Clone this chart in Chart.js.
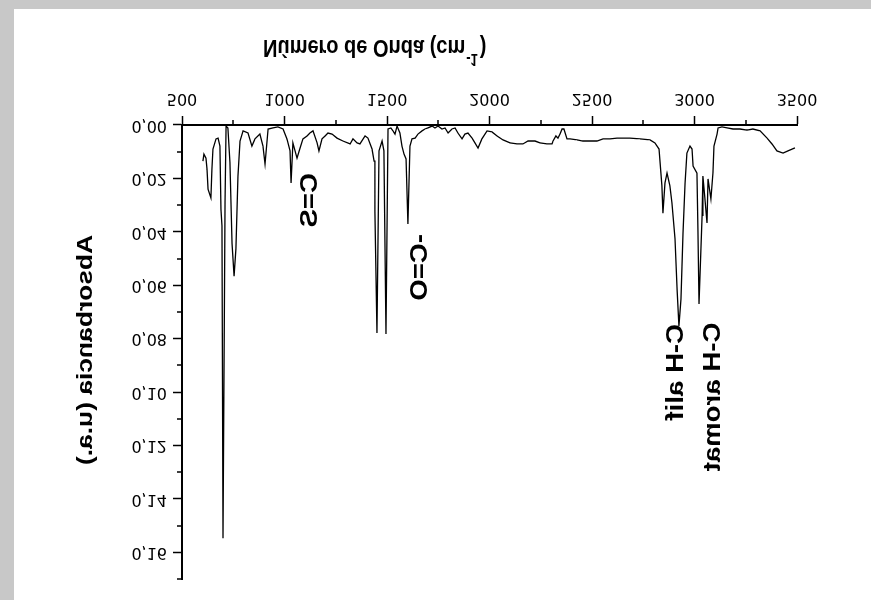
<!DOCTYPE html>
<html>
<head>
<meta charset="utf-8">
<script src="https://cdn.jsdelivr.net/npm/chart.js@4.4.1/dist/chart.umd.min.js"></script>
<style>
  html, body { margin: 0; padding: 0; background: #c8c8c8; }
  body { width: 871px; height: 600px; overflow: hidden; position: relative; }
  /* the reference is printed upside down, so the whole canvas is mirrored */
  #spectrum { position: absolute; left: 14px; top: 9px; background: #fff; transform: scaleY(-1); }
</style>
</head>
<body>
<canvas id="spectrum" width="857" height="591"></canvas>
<script>
const wavenumber = [
  602, 607, 617, 622, 627, 641, 646, 651, 666, 676,
  685, 690, 695, 700, 710, 715, 724, 734, 744, 754,
  763, 773, 783, 798, 822, 841, 856, 880, 895, 905,
  920, 944, 968, 993, 1012, 1027, 1032, 1041, 1061, 1076,
  1090, 1110, 1124, 1139, 1159, 1168, 1183, 1198, 1212, 1232,
  1256, 1285, 1320, 1334, 1354, 1368, 1393, 1407, 1427, 1437,
  1441, 1451, 1461, 1476, 1485, 1495, 1505, 1519, 1529, 1539,
  1549, 1563, 1573, 1583, 1593, 1602, 1612, 1622, 1637, 1651,
  1671, 1685, 1700, 1720, 1734, 1749, 1768, 1783, 1798, 1817,
  1832, 1846, 1866, 1880, 1895, 1915, 1929, 1944, 1963, 1988,
  2012, 2037, 2066, 2100, 2134, 2163, 2188, 2222, 2246, 2280,
  2305, 2310, 2324, 2334, 2344, 2354, 2363, 2378, 2393, 2427,
  2456, 2490, 2524, 2554, 2588, 2622, 2685, 2734, 2783, 2807,
  2827, 2841, 2846, 2856, 2866, 2880, 2890, 2905, 2915, 2924,
  2934, 2944, 2954, 2963, 2978, 2988, 2993, 3012, 3017, 3022,
  3037, 3041, 3051, 3061, 3066, 3080, 3090, 3095, 3110, 3115,
  3134, 3159, 3188, 3222, 3256, 3285, 3320, 3354, 3378, 3402,
  3432, 3456, 3490
];
const absorbance = [
  0.0135, 0.0109, 0.0124, 0.0165, 0.0240, 0.0273, 0.0165, 0.0090, 0.0052, 0.0049,
  0.0079, 0.0315, 0.0378, 0.1547, 0.0285, 0.0004, 0.0011, 0.0142, 0.0442, 0.0566,
  0.0464, 0.0191, 0.0060, 0.0022, 0.0030, 0.0079, 0.0052, 0.0034, 0.0079, 0.0146,
  0.0015, 0.0011, 0.0007, 0.0015, 0.0052, 0.0097, 0.0217, 0.0067, 0.0124, 0.0086,
  0.0052, 0.0041, 0.0030, 0.0022, 0.0067, 0.0097, 0.0052, 0.0041, 0.0030, 0.0034,
  0.0049, 0.0060, 0.0071, 0.0052, 0.0067, 0.0071, 0.0041, 0.0049, 0.0090, 0.0135,
  0.0322, 0.0779, 0.0097, 0.0060, 0.0097, 0.0783, 0.0015, 0.0011, 0.0022, 0.0034,
  0.0004, 0.0030, 0.0079, 0.0109, 0.0127, 0.0371, 0.0079, 0.0052, 0.0049, 0.0034,
  0.0022, 0.0015, 0.0011, 0.0004, 0.0011, 0.0004, 0.0015, 0.0011, 0.0030, 0.0015,
  0.0011, 0.0030, 0.0052, 0.0034, 0.0030, 0.0049, 0.0067, 0.0086, 0.0052, 0.0022,
  0.0026, 0.0041, 0.0056, 0.0067, 0.0071, 0.0071, 0.0060, 0.0060, 0.0067, 0.0071,
  0.0071, 0.0060, 0.0041, 0.0049, 0.0034, 0.0015, 0.0015, 0.0052, 0.0052, 0.0056,
  0.0060, 0.0060, 0.0060, 0.0052, 0.0052, 0.0049, 0.0049, 0.0052, 0.0056, 0.0067,
  0.0090, 0.0228, 0.0330, 0.0217, 0.0180, 0.0228, 0.0292, 0.0427, 0.0614, 0.0753,
  0.0652, 0.0404, 0.0217, 0.0105, 0.0079, 0.0090, 0.0154, 0.0180, 0.0404, 0.0670,
  0.0341, 0.0191, 0.0277, 0.0367, 0.0202, 0.0277, 0.0180, 0.0079, 0.0034, 0.0011,
  0.0007, 0.0011, 0.0015, 0.0015, 0.0019, 0.0015, 0.0022, 0.0049, 0.0071, 0.0097,
  0.0105, 0.0097, 0.0086
];

// band labels, anchored at (wavenumber, absorbance) where each rotated text starts
const peakNames = ["C=S", "-C=O", "C-H alif", "C-H aromat"];
const peakLabelX = [1158, 1695, 2944, 3124];
const peakLabelY = [0.018, 0.0408, 0.0745, 0.0740];

const FONT = '"Liberation Sans", Arial, sans-serif';

const isMajorX = (v) => v % 500 === 0;
const isMajorY = (v) => Math.round(v * 100) % 2 === 0;

const spectrumText = {
  id: "spectrumText",
  afterDraw(chart) {
    const { ctx, chartArea, scales } = chart;
    const xs = scales.x;
    const ys = scales.y;
    ctx.save();

    // minor ticks (shorter than the major ones drawn by the axes)
    ctx.strokeStyle = "#000";
    ctx.lineWidth = 1.5;
    ctx.beginPath();
    xs.ticks.forEach((t) => {
      if (!isMajorX(t.value)) {
        const px = Math.round(xs.getPixelForValue(t.value));
        ctx.moveTo(px, chartArea.bottom);
        ctx.lineTo(px, chartArea.bottom + 5);
      }
    });
    ys.ticks.forEach((t) => {
      if (!isMajorY(t.value)) {
        const py = Math.round(ys.getPixelForValue(t.value));
        ctx.moveTo(chartArea.left, py);
        ctx.lineTo(chartArea.left - 5, py);
      }
    });
    ctx.stroke();

    ctx.fillStyle = "#000";
    ctx.textBaseline = "alphabetic";
    ctx.textAlign = "left";

    // x axis title with superscript (the original lettering is a bit tall)
    ctx.save();
    ctx.translate(chartArea.left + 81, chartArea.bottom + 85);
    ctx.scale(1, 1.2);
    let x = 0;
    const main = "Número de Onda (cm";
    ctx.font = "bold 20px " + FONT;
    ctx.fillText(main, x, 0);
    x += ctx.measureText(main).width + 1;
    ctx.font = "bold 13px " + FONT;
    ctx.fillText("-1", x, -12);
    x += ctx.measureText("-1").width + 2;
    ctx.font = "bold 20px " + FONT;
    ctx.fillText(")", x, 0);
    ctx.restore();

    // y axis title
    ctx.save();
    ctx.translate(chartArea.left - 90, (chartArea.top + chartArea.bottom) / 2 + 2);
    ctx.scale(1, 1.2);
    ctx.rotate(-Math.PI / 2);
    ctx.textAlign = "center";
    ctx.font = "bold 22px " + FONT;
    ctx.fillText("Absorbancia (u.a.)", 0, 0);
    ctx.restore();

    // band labels
    ctx.font = "bold 24px " + FONT;
    peakNames.forEach((name, i) => {
      ctx.save();
      ctx.translate(xs.getPixelForValue(peakLabelX[i]), ys.getPixelForValue(peakLabelY[i]));
      ctx.scale(1, 1.15);
      ctx.rotate(-Math.PI / 2);
      ctx.fillText(name, 0, 0);
      ctx.restore();
    });

    ctx.restore();
  },
};

new Chart(document.getElementById("spectrum"), {
  type: "line",
  data: {
    datasets: [
      {
        data: wavenumber.map((w, i) => ({ x: w, y: absorbance[i] })),
        borderColor: "#000",
        borderWidth: 1.3,
        pointRadius: 0,
        tension: 0,
        fill: false,
      },
    ],
  },
  options: {
    responsive: false,
    animation: false,
    layout: { padding: { top: 21, right: 74, left: 0, bottom: 0 } },
    plugins: { legend: { display: false }, tooltip: { enabled: false } },
    scales: {
      x: {
        type: "linear",
        min: 500,
        max: 3500,
        afterFit: (scale) => { scale.height = 116; },
        border: { color: "#000", width: 2 },
        grid: {
          drawOnChartArea: false,
          tickLength: 9,
          tickWidth: 1.5,
          tickColor: (c) => (c.tick && isMajorX(c.tick.value) ? "#000" : "rgba(0,0,0,0)"),
        },
        ticks: {
          stepSize: 250,
          autoSkip: false,
          maxRotation: 0,
          padding: 8,
          color: "#000",
          font: { family: '"DejaVu Sans"', size: 16 },
          callback: (v) => (isMajorX(v) ? String(v) : ""),
        },
      },
      y: {
        min: 0,
        max: 0.17,
        afterFit: (scale) => { scale.width = 168; },
        border: { color: "#000", width: 2 },
        grid: {
          drawOnChartArea: false,
          tickLength: 9,
          tickWidth: 1.5,
          tickColor: (c) => (c.tick && isMajorY(c.tick.value) ? "#000" : "rgba(0,0,0,0)"),
        },
        ticks: {
          stepSize: 0.01,
          autoSkip: false,
          padding: 6,
          color: "#000",
          font: { family: '"DejaVu Sans"', size: 16 },
          callback: (v) => (isMajorY(v) ? v.toFixed(2).replace(".", ",") : ""),
        },
      },
    },
  },
  plugins: [spectrumText],
});
</script>
</body>
</html>
